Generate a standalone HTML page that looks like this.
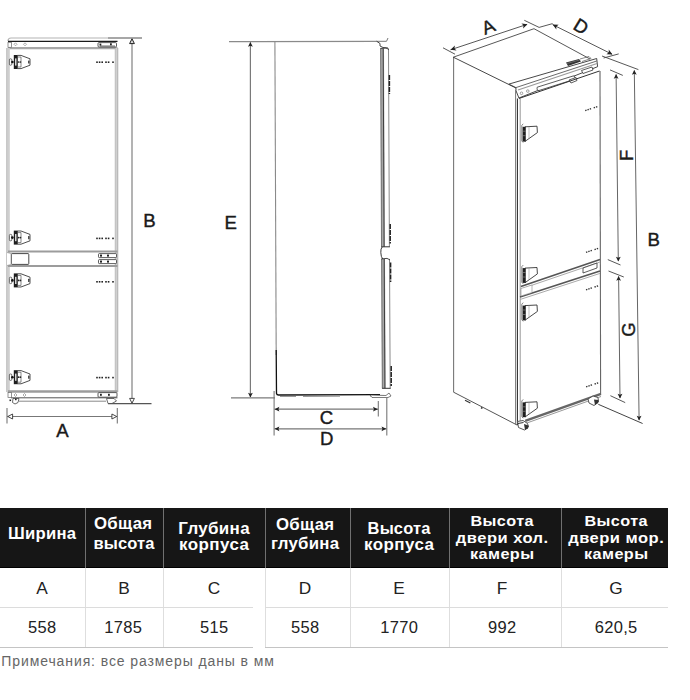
<!DOCTYPE html>
<html><head><meta charset="utf-8">
<style>
html,body{margin:0;padding:0;background:#fff;}
body{width:690px;height:700px;position:relative;overflow:hidden;font-family:"Liberation Sans",sans-serif;}
svg{position:absolute;left:0;top:0;}
.t{position:absolute;}
.hd{position:absolute;top:507.5px;height:60.5px;background:#161616;}
.hb{position:absolute;top:566.5px;height:1.5px;background:#000;}
.vs{position:absolute;top:507.5px;height:60.5px;width:1.2px;background:#707070;}
.vl{position:absolute;top:568px;height:79px;width:1.2px;background:#dedede;}
.hl{position:absolute;height:1.3px;background:#dcdcdc;}
.hh{position:absolute;color:#fff;font-weight:bold;font-size:16px;line-height:19.5px;text-align:center;display:flex;align-items:center;justify-content:center;top:507.5px;height:60.5px;}
.c{position:absolute;color:#222;font-size:16px;text-align:center;line-height:20px;}
</style></head><body>
<svg width="690" height="500" viewBox="0 0 690 500">
<path d="M8,41 Q8,38 11,38 L108,38" fill="none" stroke="#b4b4b4" stroke-width="1.2"/><line x1="108" y1="38" x2="142" y2="38" stroke="#8a8a8a" stroke-width="1.3"/><line x1="8" y1="41.4" x2="117.5" y2="41.4" stroke="#1a1a1a" stroke-width="1.4"/><line x1="8" y1="48.2" x2="117.5" y2="48.2" stroke="#a8a8a8" stroke-width="2.2"/><rect x="8" y="42.3" width="3.4" height="5" fill="#fff" stroke="#666" stroke-width="0.7"/><path d="M15.5,42.8 L17,44.3 L15.5,45.8 L14,44.3 Z M25,42.8 L26.5,44.3 L25,45.8 L23.5,44.3 Z" fill="none" stroke="#777" stroke-width="0.6"/><rect x="98" y="42.6" width="18.5" height="4.4" rx="1" fill="#fff" stroke="#333" stroke-width="0.8"/><line x1="100" y1="46" x2="115" y2="46" stroke="#444" stroke-width="0.8"/><rect x="99.5" y="43.6" width="1.8" height="2" fill="#222"/><rect x="110" y="43.3" width="1.8" height="2" fill="#222"/><rect x="6.6" y="48" width="3.2" height="344" fill="#cfcfcf"/><line x1="6.6" y1="48" x2="6.6" y2="392" stroke="#aaa" stroke-width="0.6"/><rect x="115.2" y="48" width="2.6" height="344" fill="#d0d0d0"/><line x1="117.8" y1="48" x2="117.8" y2="392" stroke="#999" stroke-width="0.7"/><line x1="115.2" y1="48" x2="115.2" y2="392" stroke="#aaa" stroke-width="0.6"/><line x1="8" y1="251.6" x2="117.5" y2="251.6" stroke="#9c9c9c" stroke-width="2"/><line x1="8" y1="266" x2="117.5" y2="266" stroke="#9c9c9c" stroke-width="2"/><rect x="11.3" y="253.6" width="17.5" height="10.8" rx="0.8" fill="#fff" stroke="#333" stroke-width="0.9"/><path d="M7,252.5 L11,253.5 L11,264.5 L7,265.5" fill="#fff" stroke="#888" stroke-width="0.6"/><rect x="98.5" y="253.6" width="18" height="4" rx="0.8" fill="#fff" stroke="#333" stroke-width="0.8"/><rect x="98.5" y="259.6" width="18" height="4" rx="0.8" fill="#fff" stroke="#333" stroke-width="0.8"/><rect x="100" y="254.6" width="2" height="2" fill="#222"/><rect x="107" y="254.6" width="2" height="2" fill="#222"/><rect x="100" y="260.6" width="2" height="2" fill="#222"/><rect x="107" y="260.6" width="2" height="2" fill="#222"/><line x1="8" y1="391.5" x2="117.5" y2="391.5" stroke="#9c9c9c" stroke-width="2.4"/><rect x="8" y="392.5" width="3.6" height="5" fill="#fff" stroke="#666" stroke-width="0.7"/><path d="M15.5,393.5 L17,395 L15.5,396.5 L14,395 Z M24.5,393.5 L26,395 L24.5,396.5 L23,395 Z" fill="none" stroke="#777" stroke-width="0.6"/><line x1="11" y1="397.8" x2="117.5" y2="397.8" stroke="#555" stroke-width="1"/><line x1="19" y1="401.2" x2="106" y2="401.2" stroke="#888" stroke-width="1"/><rect x="98" y="392.6" width="19" height="4.6" rx="1" fill="#fff" stroke="#333" stroke-width="0.8"/><rect x="100" y="393.8" width="1.8" height="2" fill="#222"/><rect x="108" y="393.8" width="1.8" height="2" fill="#222"/><path d="M106.5,398.5 L114,398.5 L116.5,401 L112,403.5 L108,403.5 Z" fill="#fff" stroke="#444" stroke-width="0.8"/><path d="M13,398.5 L19,398.5 L18,402.5 L15,404 L12.5,402.5 Z" fill="#fff" stroke="#444" stroke-width="0.8"/><rect x="9.5" y="399.5" width="1.6" height="1.6" fill="#222"/><rect x="15" y="398.6" width="1.6" height="1.6" fill="#222"/><g transform="translate(9,62)">
<path d="M8.3,-6.6 L12,-6.6 L21,-3.2 L21,3.2 L12,6.6 L8.3,6.6 Z" fill="#fff" stroke="#3a3a3a" stroke-width="0.9"/>
<rect x="4.8" y="-7" width="3.6" height="14" fill="#1e1e1e"/>
<rect x="6" y="-3.6" width="1.5" height="7.2" fill="#d8d8d8"/>
<path d="M8.4,-5 L12,-5 L12,5 L8.4,5" fill="none" stroke="#555" stroke-width="0.7"/>
<circle cx="9.6" cy="0" r="0.85" fill="#222"/><circle cx="11.4" cy="0" r="0.85" fill="#222"/>
<rect x="0.4" y="-3.2" width="2.4" height="6.4" rx="1" fill="#fff" stroke="#333" stroke-width="0.7"/>
<circle cx="3.4" cy="0" r="1.3" fill="#111"/>
<rect x="19.2" y="-1.6" width="1.2" height="3.2" rx="0.5" fill="#222"/>
</g><g transform="translate(9,237.6)">
<path d="M8.3,-6.6 L12,-6.6 L21,-3.2 L21,3.2 L12,6.6 L8.3,6.6 Z" fill="#fff" stroke="#3a3a3a" stroke-width="0.9"/>
<rect x="4.8" y="-7" width="3.6" height="14" fill="#1e1e1e"/>
<rect x="6" y="-3.6" width="1.5" height="7.2" fill="#d8d8d8"/>
<path d="M8.4,-5 L12,-5 L12,5 L8.4,5" fill="none" stroke="#555" stroke-width="0.7"/>
<circle cx="9.6" cy="0" r="0.85" fill="#222"/><circle cx="11.4" cy="0" r="0.85" fill="#222"/>
<rect x="0.4" y="-3.2" width="2.4" height="6.4" rx="1" fill="#fff" stroke="#333" stroke-width="0.7"/>
<circle cx="3.4" cy="0" r="1.3" fill="#111"/>
<rect x="19.2" y="-1.6" width="1.2" height="3.2" rx="0.5" fill="#222"/>
</g><g transform="translate(9,280.4)">
<path d="M8.3,-6.6 L12,-6.6 L21,-3.2 L21,3.2 L12,6.6 L8.3,6.6 Z" fill="#fff" stroke="#3a3a3a" stroke-width="0.9"/>
<rect x="4.8" y="-7" width="3.6" height="14" fill="#1e1e1e"/>
<rect x="6" y="-3.6" width="1.5" height="7.2" fill="#d8d8d8"/>
<path d="M8.4,-5 L12,-5 L12,5 L8.4,5" fill="none" stroke="#555" stroke-width="0.7"/>
<circle cx="9.6" cy="0" r="0.85" fill="#222"/><circle cx="11.4" cy="0" r="0.85" fill="#222"/>
<rect x="0.4" y="-3.2" width="2.4" height="6.4" rx="1" fill="#fff" stroke="#333" stroke-width="0.7"/>
<circle cx="3.4" cy="0" r="1.3" fill="#111"/>
<rect x="19.2" y="-1.6" width="1.2" height="3.2" rx="0.5" fill="#222"/>
</g><g transform="translate(9,377.2)">
<path d="M8.3,-6.6 L12,-6.6 L21,-3.2 L21,3.2 L12,6.6 L8.3,6.6 Z" fill="#fff" stroke="#3a3a3a" stroke-width="0.9"/>
<rect x="4.8" y="-7" width="3.6" height="14" fill="#1e1e1e"/>
<rect x="6" y="-3.6" width="1.5" height="7.2" fill="#d8d8d8"/>
<path d="M8.4,-5 L12,-5 L12,5 L8.4,5" fill="none" stroke="#555" stroke-width="0.7"/>
<circle cx="9.6" cy="0" r="0.85" fill="#222"/><circle cx="11.4" cy="0" r="0.85" fill="#222"/>
<rect x="0.4" y="-3.2" width="2.4" height="6.4" rx="1" fill="#fff" stroke="#333" stroke-width="0.7"/>
<circle cx="3.4" cy="0" r="1.3" fill="#111"/>
<rect x="19.2" y="-1.6" width="1.2" height="3.2" rx="0.5" fill="#222"/>
</g><g fill="#222"><rect x="96.2" y="61.400000000000006" width="1.6" height="1.6"/><rect x="98.8" y="61.400000000000006" width="1.6" height="1.6"/><rect x="101.4" y="61.400000000000006" width="1.6" height="1.6"/>
<rect x="105.2" y="61.400000000000006" width="1.6" height="1.6"/><rect x="107.8" y="61.400000000000006" width="1.6" height="1.6"/><rect x="112.2" y="61.400000000000006" width="1.6" height="1.6"/></g><g fill="#222"><rect x="96.2" y="237.6" width="1.6" height="1.6"/><rect x="98.8" y="237.6" width="1.6" height="1.6"/><rect x="101.4" y="237.6" width="1.6" height="1.6"/>
<rect x="105.2" y="237.6" width="1.6" height="1.6"/><rect x="107.8" y="237.6" width="1.6" height="1.6"/><rect x="112.2" y="237.6" width="1.6" height="1.6"/></g><g fill="#222"><rect x="96.2" y="281.0" width="1.6" height="1.6"/><rect x="98.8" y="281.0" width="1.6" height="1.6"/><rect x="101.4" y="281.0" width="1.6" height="1.6"/>
<rect x="105.2" y="281.0" width="1.6" height="1.6"/><rect x="107.8" y="281.0" width="1.6" height="1.6"/><rect x="112.2" y="281.0" width="1.6" height="1.6"/></g><g fill="#222"><rect x="96.2" y="376.8" width="1.6" height="1.6"/><rect x="98.8" y="376.8" width="1.6" height="1.6"/><rect x="101.4" y="376.8" width="1.6" height="1.6"/>
<rect x="105.2" y="376.8" width="1.6" height="1.6"/><rect x="107.8" y="376.8" width="1.6" height="1.6"/><rect x="112.2" y="376.8" width="1.6" height="1.6"/></g><line x1="108" y1="403.6" x2="151.5" y2="403.6" stroke="#555" stroke-width="1.1"/><line x1="132" y1="39" x2="132" y2="402.5" stroke="#8a8a8a" stroke-width="1.3"/><path d="M129.6,43.6 L132,38.8 L134.4,43.6 Z" fill="#ddd" stroke="#222" stroke-width="1"/><path d="M129.6,398.4 L132,403.2 L134.4,398.4 Z" fill="#fff" stroke="#333" stroke-width="0.9"/><line x1="7" y1="416.5" x2="117.3" y2="416.5" stroke="#777" stroke-width="1.2"/><line x1="7" y1="408" x2="7" y2="423.5" stroke="#777" stroke-width="1.1"/><line x1="117.3" y1="408" x2="117.3" y2="423.5" stroke="#777" stroke-width="1.1"/><path d="M12.6,414 L7.8,416.5 L12.6,419 Z" fill="#fff" stroke="#333" stroke-width="0.9"/><path d="M111.9,414 L116.7,416.5 L111.9,419 Z" fill="#fff" stroke="#333" stroke-width="0.9"/><line x1="229" y1="41.6" x2="377" y2="41.3" stroke="#8a8a8a" stroke-width="1.2"/><path d="M376,41.3 L386.5,41.3 L388,38" fill="none" stroke="#777" stroke-width="1"/><path d="M377,41.5 L380,43.5 L380,46 L383,47.5 L388,48" fill="none" stroke="#333" stroke-width="0.9"/><line x1="274.9" y1="41.6" x2="276.2" y2="355" stroke="#8a8a8a" stroke-width="1.1"/><path d="M276.2,350 L276.5,393.5 Q276.8,395 278.5,395 L380,394.6" fill="none" stroke="#111" stroke-width="1.3"/><path d="M280,396.5 L296,396.5 M303,396.5 L340,396.3 M370,396 L384,396" fill="none" stroke="#999" stroke-width="1.1"/><path d="M380.4,48.5 L384,48.5 L384.9,246.8 L381.29999999999995,246.8 Z" fill="#a8a8a8"/><line x1="383.2" y1="48.5" x2="384.09999999999997" y2="246.8" stroke="#333" stroke-width="0.9"/><line x1="380.6" y1="48.5" x2="381.5" y2="246.8" stroke="#555" stroke-width="0.7"/><line x1="388.5" y1="48.5" x2="389.4" y2="246.8" stroke="#8a8a8a" stroke-width="1"/><path d="M380.4,48.5 L386,48.0 L389,49.5" fill="none" stroke="#333" stroke-width="0.9"/><path d="M381.29999999999995,246.8 L389.9,246.8" fill="none" stroke="#333" stroke-width="1"/><path d="M381.4,258.9 L385.0,258.9 L385.7,388.3 L382.09999999999997,388.3 Z" fill="#a8a8a8"/><line x1="384.2" y1="258.9" x2="384.9" y2="388.3" stroke="#333" stroke-width="0.9"/><line x1="381.6" y1="258.9" x2="382.3" y2="388.3" stroke="#555" stroke-width="0.7"/><line x1="389.5" y1="258.9" x2="390.2" y2="388.3" stroke="#8a8a8a" stroke-width="1"/><path d="M381.4,258.9 L387.0,258.4 L390.0,259.9" fill="none" stroke="#333" stroke-width="0.9"/><path d="M382.09999999999997,388.3 L390.7,388.3" fill="none" stroke="#333" stroke-width="1"/><path d="M382.2,247 Q380.6,248.5 380.8,252.5 Q381,257 382.6,258.9" fill="none" stroke="#222" stroke-width="0.9"/><line x1="389.4" y1="75" x2="389.4" y2="94" stroke="#222" stroke-width="1.5" stroke-dasharray="5,1"/><line x1="390.2" y1="224" x2="390.2" y2="243.4" stroke="#222" stroke-width="1.5" stroke-dasharray="5,1"/><line x1="390.6" y1="262.5" x2="390.6" y2="282" stroke="#222" stroke-width="1.5" stroke-dasharray="5,1"/><line x1="391.2" y1="366" x2="391.2" y2="386" stroke="#222" stroke-width="1.5" stroke-dasharray="5,1"/><path d="M370,395 L386,395.5 L389,393 L391,396 L388,397.5 L372,397.5 Z" fill="#fff" stroke="#444" stroke-width="0.7"/><line x1="250.4" y1="42.5" x2="250.4" y2="397" stroke="#7a7a7a" stroke-width="1.2"/><polygon points="250.4,42 248.0,46.8 250.4,45.84 252.8,46.8" fill="#222"/><polygon points="250.4,397.5 248.0,392.7 250.4,393.66 252.8,392.7" fill="#222"/><line x1="231" y1="397.8" x2="275" y2="397.8" stroke="#7a7a7a" stroke-width="1.2"/><line x1="274.1" y1="391" x2="274.1" y2="435.6" stroke="#777" stroke-width="1.1"/><line x1="378.3" y1="401" x2="378.3" y2="416.5" stroke="#777" stroke-width="1.1"/><line x1="386.8" y1="398" x2="386.8" y2="435.6" stroke="#777" stroke-width="1.1"/><line x1="274.5" y1="409.2" x2="378" y2="409.2" stroke="#777" stroke-width="1.2"/><line x1="274.5" y1="428.8" x2="386.5" y2="428.8" stroke="#777" stroke-width="1.2"/><polygon points="274.6,409.2 279.40000000000003,406.8 278.44,409.2 279.40000000000003,411.59999999999997" fill="#222"/><polygon points="377.8,409.2 373.0,406.8 373.96000000000004,409.2 373.0,411.59999999999997" fill="#222"/><polygon points="274.6,428.8 279.40000000000003,426.40000000000003 278.44,428.8 279.40000000000003,431.2" fill="#222"/><polygon points="386.3,428.8 381.5,426.40000000000003 382.46000000000004,428.8 381.5,431.2" fill="#222"/><line x1="453.6" y1="57" x2="453.6" y2="392.2" stroke="#777" stroke-width="1.1"/><line x1="453.3" y1="57.2" x2="534" y2="28.7" stroke="#444" stroke-width="0.9"/><line x1="534" y1="28.7" x2="590" y2="59" stroke="#444" stroke-width="0.9"/><line x1="453.3" y1="57.2" x2="516" y2="88" stroke="#333" stroke-width="0.9"/><line x1="453.6" y1="392.2" x2="517.4" y2="425.2" stroke="#555" stroke-width="1"/><line x1="600" y1="71" x2="600.6" y2="394" stroke="#666" stroke-width="1.1"/><path d="M508.9,84.1 L596.7,58.5 L597.6,66.7 L518.9,98 L516,90.7 L515.9,87.6 Z" fill="#fff" stroke="#333" stroke-width="0.9"/><line x1="515.9" y1="87.6" x2="596.7" y2="61" stroke="#444" stroke-width="0.8"/><line x1="518" y1="90" x2="597" y2="63.5" stroke="#999" stroke-width="1.2"/><path d="M537.2,87.2 L573,76 Q575,75.5 575,78 L575.5,79 L539,90.5 Q536.5,91 537.2,87.2 Z" fill="#fff" stroke="#333" stroke-width="0.8"/><path d="M566,62.5 L579,59 L581,61.5 L568,66 Z" fill="#333"/><path d="M567,63.5 L579.5,60" stroke="#888" stroke-width="0.6"/><path d="M580,59 L589,56.5 L591,58.5 L582,61.5" fill="none" stroke="#555" stroke-width="0.7"/><path d="M581.5,70.5 L592,67 L593,70 L583,73.5 Z" fill="#fff" stroke="#333" stroke-width="0.8"/><circle cx="521.5" cy="93.3" r="1.3" fill="none" stroke="#666" stroke-width="0.6"/><circle cx="527.8" cy="91.1" r="1.3" fill="none" stroke="#666" stroke-width="0.6"/><path d="M569,80 L576,77.5 L577,80.5 L571,83 Z" fill="#fff" stroke="#333" stroke-width="0.8"/><line x1="515.6" y1="90" x2="515.6" y2="425" stroke="#777" stroke-width="1"/><line x1="517.4" y1="98.5" x2="517.4" y2="425" stroke="#222" stroke-width="1"/><line x1="520.2" y1="98.5" x2="520.2" y2="421" stroke="#999" stroke-width="1"/><line x1="518.9" y1="98.5" x2="599.5" y2="71" stroke="#333" stroke-width="1"/><line x1="520.9" y1="286.5" x2="600" y2="259.6" stroke="#555" stroke-width="1.6"/><line x1="520.9" y1="289" x2="600" y2="262" stroke="#aaa" stroke-width="1"/><line x1="520" y1="297" x2="600" y2="270.9" stroke="#555" stroke-width="1.6"/><line x1="520" y1="299.5" x2="600" y2="273.4" stroke="#aaa" stroke-width="1"/><path d="M521,288.5 L532,285 L532,292.5 L521,296 Z" fill="#fff" stroke="#888" stroke-width="0.6"/><path d="M583,268 L597,263 L597,268 L583,273 Z" fill="#fff" stroke="#333" stroke-width="0.8"/><line x1="525.2" y1="420.9" x2="601" y2="393.9" stroke="#666" stroke-width="2.4"/><line x1="525.2" y1="423.6" x2="601" y2="396.5" stroke="#999" stroke-width="1"/><g transform="translate(521,123.2)">
<path d="M2.2,0.6 L0.8,2.2 L0.8,17.8 L2.2,19.4" fill="none" stroke="#666" stroke-width="0.8"/>
<path d="M4,3.6 L16,3 L16.4,9.4 L4,18.2 Z" fill="#fff" stroke="#333" stroke-width="0.9"/>
<path d="M8,3.4 L8,15.4" stroke="#999" stroke-width="0.6"/>
<rect x="1.6" y="3.6" width="3" height="14.8" fill="#1e1e1e"/>
<path d="M1.6,8 L4.6,8 M1.6,12.5 L4.6,12.5" stroke="#999" stroke-width="0.6"/>
</g><g transform="translate(521,264.5)">
<path d="M2.2,0.6 L0.8,2.2 L0.8,17.8 L2.2,19.4" fill="none" stroke="#666" stroke-width="0.8"/>
<path d="M4,3.6 L16,3 L16.4,9.4 L4,18.2 Z" fill="#fff" stroke="#333" stroke-width="0.9"/>
<path d="M8,3.4 L8,15.4" stroke="#999" stroke-width="0.6"/>
<rect x="1.6" y="3.6" width="3" height="14.8" fill="#1e1e1e"/>
<path d="M1.6,8 L4.6,8 M1.6,12.5 L4.6,12.5" stroke="#999" stroke-width="0.6"/>
</g><g transform="translate(521,302)">
<path d="M2.2,0.6 L0.8,2.2 L0.8,17.8 L2.2,19.4" fill="none" stroke="#666" stroke-width="0.8"/>
<path d="M4,3.6 L16,3 L16.4,9.4 L4,18.2 Z" fill="#fff" stroke="#333" stroke-width="0.9"/>
<path d="M8,3.4 L8,15.4" stroke="#999" stroke-width="0.6"/>
<rect x="1.6" y="3.6" width="3" height="14.8" fill="#1e1e1e"/>
<path d="M1.6,8 L4.6,8 M1.6,12.5 L4.6,12.5" stroke="#999" stroke-width="0.6"/>
</g><g transform="translate(521,398.8)">
<path d="M2.2,0.6 L0.8,2.2 L0.8,17.8 L2.2,19.4" fill="none" stroke="#666" stroke-width="0.8"/>
<path d="M4,3.6 L16,3 L16.4,9.4 L4,18.2 Z" fill="#fff" stroke="#333" stroke-width="0.9"/>
<path d="M8,3.4 L8,15.4" stroke="#999" stroke-width="0.6"/>
<rect x="1.6" y="3.6" width="3" height="14.8" fill="#1e1e1e"/>
<path d="M1.6,8 L4.6,8 M1.6,12.5 L4.6,12.5" stroke="#999" stroke-width="0.6"/>
</g><path d="M585.2,110.6 L591.2,108.6" stroke="#333" stroke-width="1.4" stroke-dasharray="1.4,1"/><path d="M593.7,107.8 L598.2,106.3" stroke="#333" stroke-width="1.4" stroke-dasharray="1.4,1"/><path d="M586,252.4 L592,250.4" stroke="#333" stroke-width="1.4" stroke-dasharray="1.4,1"/><path d="M594.5,249.6 L599,248.1" stroke="#333" stroke-width="1.4" stroke-dasharray="1.4,1"/><path d="M586,289.8 L592,287.8" stroke="#333" stroke-width="1.4" stroke-dasharray="1.4,1"/><path d="M594.5,287.0 L599,285.5" stroke="#333" stroke-width="1.4" stroke-dasharray="1.4,1"/><path d="M586.1,386.8 L592.1,384.8" stroke="#333" stroke-width="1.4" stroke-dasharray="1.4,1"/><path d="M594.6,384.0 L599.1,382.5" stroke="#333" stroke-width="1.4" stroke-dasharray="1.4,1"/><path d="M517.5,421.5 L523,420.5 L527.5,423.5 L528.5,427 L524.5,430 L518.5,427.5 Z" fill="#fff" stroke="#444" stroke-width="0.9"/><path d="M524,424 L528.5,425.5 L528,428.5 L525,430 Z" fill="#333"/><path d="M518,423.5 L523.5,422.5" stroke="#333" stroke-width="1"/><path d="M588,399 L593,396 L598,397.5 L598.5,402 L594,405.5 L589,403 Z" fill="#fff" stroke="#444" stroke-width="0.9"/><path d="M594,399.5 L598.5,400 L598,403 L595,405 Z" fill="#333"/><path d="M465,400.3 L470.4,403" stroke="#333" stroke-width="1.2"/><path d="M481,407.6 L482.4,408.3" stroke="#222" stroke-width="1.5"/><line x1="443" y1="47.8" x2="455" y2="54.2" stroke="#444" stroke-width="0.9"/><line x1="450.5" y1="49.8" x2="527" y2="24.4" stroke="#444" stroke-width="0.9"/><polygon points="450.50,49.80 454.90,45.60 454.41,48.50 456.54,50.53" fill="#222"/><polygon points="527.50,24.20 523.10,28.40 523.59,25.50 521.46,23.47" fill="#222"/><path d="M524.3,20.3 L539.1,27.4 L552.6,23.6" fill="none" stroke="#444" stroke-width="0.9"/><line x1="552.6" y1="24.6" x2="612" y2="54.2" stroke="#444" stroke-width="0.9"/><polygon points="552.60,24.60 558.68,24.73 556.29,26.44 556.36,29.38" fill="#222"/><polygon points="612.50,54.40 606.42,54.27 608.81,52.56 608.74,49.62" fill="#222"/><line x1="603.6" y1="58" x2="618.7" y2="53.9" stroke="#444" stroke-width="0.9"/><line x1="602" y1="56" x2="638.4" y2="69.6" stroke="#444" stroke-width="0.9"/><line x1="610" y1="69.9" x2="622.8" y2="75.4" stroke="#444" stroke-width="0.9"/><line x1="616.1" y1="74.5" x2="618.3" y2="261" stroke="#666" stroke-width="1"/><polygon points="616.1,74 613.7,78.8 616.1,77.84 618.5,78.8" fill="#222"/><polygon points="618.3,261.5 615.9,256.7 618.3,257.66 620.6999999999999,256.7" fill="#222"/><line x1="607.8" y1="259.6" x2="620.5" y2="265" stroke="#444" stroke-width="0.9"/><line x1="608.5" y1="271" x2="623.8" y2="277" stroke="#444" stroke-width="0.9"/><line x1="618.6" y1="276.5" x2="620" y2="398" stroke="#666" stroke-width="1"/><polygon points="618.6,276 616.2,280.8 618.6,279.84 621.0,280.8" fill="#222"/><polygon points="620,398.5 617.6,393.7 620,394.66 622.4,393.7" fill="#222"/><line x1="610.4" y1="395.7" x2="625.2" y2="402.6" stroke="#444" stroke-width="0.9"/><line x1="634.3" y1="70.5" x2="639.1" y2="420" stroke="#666" stroke-width="1"/><polygon points="634.3,70 631.9,74.8 634.3,73.84 636.6999999999999,74.8" fill="#222"/><polygon points="639.1,420.5 636.7,415.7 639.1,416.66 641.5,415.7" fill="#222"/><line x1="598.3" y1="404.3" x2="642.6" y2="423.5" stroke="#444" stroke-width="1"/>
<text x="149.4" y="220.2" transform="rotate(0 149.4 220.2)" font-family="Liberation Sans" font-size="18.6" fill="#1a1a1a" stroke="#1a1a1a" stroke-width="0.4" text-anchor="middle" dominant-baseline="central">B</text><text x="62.4" y="430.6" transform="rotate(0 62.4 430.6)" font-family="Liberation Sans" font-size="18.6" fill="#1a1a1a" stroke="#1a1a1a" stroke-width="0.4" text-anchor="middle" dominant-baseline="central">A</text><text x="230.7" y="222.8" transform="rotate(0 230.7 222.8)" font-family="Liberation Sans" font-size="18.6" fill="#1a1a1a" stroke="#1a1a1a" stroke-width="0.4" text-anchor="middle" dominant-baseline="central">E</text><text x="326.4" y="417.7" transform="rotate(0 326.4 417.7)" font-family="Liberation Sans" font-size="18.6" fill="#1a1a1a" stroke="#1a1a1a" stroke-width="0.4" text-anchor="middle" dominant-baseline="central">C</text><text x="326.7" y="438.9" transform="rotate(0 326.7 438.9)" font-family="Liberation Sans" font-size="18.6" fill="#1a1a1a" stroke="#1a1a1a" stroke-width="0.4" text-anchor="middle" dominant-baseline="central">D</text><text x="488.2" y="26.6" transform="rotate(-22.6 488.2 26.6)" font-family="Liberation Sans" font-size="18.6" fill="#1a1a1a" stroke="#1a1a1a" stroke-width="0.4" text-anchor="middle" dominant-baseline="central">A</text><text x="581.2" y="26.5" transform="rotate(31 581.2 26.5)" font-family="Liberation Sans" font-size="18.6" fill="#1a1a1a" stroke="#1a1a1a" stroke-width="0.4" text-anchor="middle" dominant-baseline="central">D</text><text x="626.2" y="155.3" transform="rotate(-90 626.2 155.3)" font-family="Liberation Sans" font-size="18.6" fill="#1a1a1a" stroke="#1a1a1a" stroke-width="0.4" text-anchor="middle" dominant-baseline="central">F</text><text x="628.3" y="329.4" transform="rotate(-90 628.3 329.4)" font-family="Liberation Sans" font-size="18.6" fill="#1a1a1a" stroke="#1a1a1a" stroke-width="0.4" text-anchor="middle" dominant-baseline="central">G</text><text x="653.6" y="239.1" transform="rotate(0 653.6 239.1)" font-family="Liberation Sans" font-size="18.6" fill="#1a1a1a" stroke="#1a1a1a" stroke-width="0.4" text-anchor="middle" dominant-baseline="central">B</text>
</svg>
<div class="hd" style="left:0;width:668px"></div>
<div class="hb" style="left:0;width:668px"></div>
<div class="vs" style="left:85px"></div>
<div class="vs" style="left:163px"></div>
<div class="vs" style="left:264.8px"></div>
<div class="vs" style="left:349.5px"></div>
<div class="vs" style="left:448.8px"></div>
<div class="vs" style="left:561px"></div>
<div class="vl" style="left:85px"></div>
<div class="vl" style="left:163px"></div>
<div class="vl" style="left:264.8px"></div>
<div class="vl" style="left:349.5px"></div>
<div class="vl" style="left:448.8px"></div>
<div class="vl" style="left:561px"></div>
<div class="hl" style="left:0;width:253px;top:606.8px"></div>
<div class="hl" style="left:264.8px;width:403px;top:606.8px"></div>
<div class="hl" style="left:0;width:253px;top:646.5px;background:#c4c4c4"></div>
<div class="hl" style="left:264.8px;width:403px;top:646.5px;background:#c4c4c4"></div>
<div class="t" style="left:-57.60px;width:200px;top:525.56px;font-size:16px;line-height:16px;letter-spacing:0.25px;text-indent:0.25px;color:#fff;font-weight:bold;text-align:center;white-space:nowrap;transform:scaleX(1.04);transform-origin:100.0px 0;">Ширина</div><div class="t" style="left:22.90px;width:200px;top:516.06px;font-size:16px;line-height:16px;letter-spacing:0.3px;text-indent:0.3px;color:#fff;font-weight:bold;text-align:center;white-space:nowrap;transform:scaleX(1.05);transform-origin:100.0px 0;">Общая</div><div class="t" style="left:23.50px;width:200px;top:535.96px;font-size:16px;line-height:16px;letter-spacing:0.1px;text-indent:0.1px;color:#fff;font-weight:bold;text-align:center;white-space:nowrap;transform:scaleX(1.03);transform-origin:100.0px 0;">высота</div><div class="t" style="left:114.00px;width:200px;top:521.36px;font-size:16px;line-height:16px;letter-spacing:0.3px;text-indent:0.3px;color:#fff;font-weight:bold;text-align:center;white-space:nowrap;transform:scaleX(1.06);transform-origin:100.0px 0;">Глубина</div><div class="t" style="left:114.40px;width:200px;top:537.36px;font-size:16px;line-height:16px;letter-spacing:0.4px;text-indent:0.4px;color:#fff;font-weight:bold;text-align:center;white-space:nowrap;transform:scaleX(1.06);transform-origin:100.0px 0;">корпуса</div><div class="t" style="left:205.00px;width:200px;top:516.96px;font-size:16px;line-height:16px;letter-spacing:0.3px;text-indent:0.3px;color:#fff;font-weight:bold;text-align:center;white-space:nowrap;transform:scaleX(1.05);transform-origin:100.0px 0;">Общая</div><div class="t" style="left:205.00px;width:200px;top:535.96px;font-size:16px;line-height:16px;letter-spacing:0.25px;text-indent:0.25px;color:#fff;font-weight:bold;text-align:center;white-space:nowrap;transform:scaleX(1.05);transform-origin:100.0px 0;">глубина</div><div class="t" style="left:299.00px;width:200px;top:521.06px;font-size:16px;line-height:16px;letter-spacing:0.15px;text-indent:0.15px;color:#fff;font-weight:bold;text-align:center;white-space:nowrap;transform:scaleX(1.03);transform-origin:100.0px 0;">Высота</div><div class="t" style="left:299.00px;width:200px;top:537.36px;font-size:16px;line-height:16px;letter-spacing:0.4px;text-indent:0.4px;color:#fff;font-weight:bold;text-align:center;white-space:nowrap;transform:scaleX(1.06);transform-origin:100.0px 0;">корпуса</div><div class="t" style="left:402.20px;width:200px;top:512.70px;font-size:15px;line-height:15px;letter-spacing:0.4px;text-indent:0.4px;color:#fff;font-weight:bold;text-align:center;white-space:nowrap;transform:scaleX(1.08);transform-origin:100.0px 0;">Высота</div><div class="t" style="left:402.20px;width:200px;top:529.50px;font-size:15px;line-height:15px;letter-spacing:0.45px;text-indent:0.45px;color:#fff;font-weight:bold;text-align:center;white-space:nowrap;transform:scaleX(1.1);transform-origin:100.0px 0;">двери хол.</div><div class="t" style="left:402.20px;width:200px;top:545.90px;font-size:15px;line-height:15px;letter-spacing:0.4px;text-indent:0.4px;color:#fff;font-weight:bold;text-align:center;white-space:nowrap;transform:scaleX(1.08);transform-origin:100.0px 0;">камеры</div><div class="t" style="left:515.60px;width:200px;top:512.70px;font-size:15px;line-height:15px;letter-spacing:0.4px;text-indent:0.4px;color:#fff;font-weight:bold;text-align:center;white-space:nowrap;transform:scaleX(1.08);transform-origin:100.0px 0;">Высота</div><div class="t" style="left:515.60px;width:200px;top:529.50px;font-size:15px;line-height:15px;letter-spacing:0.45px;text-indent:0.45px;color:#fff;font-weight:bold;text-align:center;white-space:nowrap;transform:scaleX(1.1);transform-origin:100.0px 0;">двери мор.</div><div class="t" style="left:515.60px;width:200px;top:545.90px;font-size:15px;line-height:15px;letter-spacing:0.4px;text-indent:0.4px;color:#fff;font-weight:bold;text-align:center;white-space:nowrap;transform:scaleX(1.08);transform-origin:100.0px 0;">камеры</div>
<div class="t" style="left:-57.60px;width:200px;top:580.66px;font-size:16px;line-height:16px;letter-spacing:0px;text-indent:0px;color:#222;font-weight:normal;text-align:center;white-space:nowrap;transform:scaleX(1.08);transform-origin:100.0px 0;">A</div><div class="t" style="left:23.50px;width:200px;top:580.66px;font-size:16px;line-height:16px;letter-spacing:0px;text-indent:0px;color:#222;font-weight:normal;text-align:center;white-space:nowrap;transform:scaleX(1.08);transform-origin:100.0px 0;">B</div><div class="t" style="left:114.00px;width:200px;top:580.66px;font-size:16px;line-height:16px;letter-spacing:0px;text-indent:0px;color:#222;font-weight:normal;text-align:center;white-space:nowrap;transform:scaleX(1.08);transform-origin:100.0px 0;">C</div><div class="t" style="left:205.00px;width:200px;top:580.66px;font-size:16px;line-height:16px;letter-spacing:0px;text-indent:0px;color:#222;font-weight:normal;text-align:center;white-space:nowrap;transform:scaleX(1.08);transform-origin:100.0px 0;">D</div><div class="t" style="left:299.00px;width:200px;top:580.66px;font-size:16px;line-height:16px;letter-spacing:0px;text-indent:0px;color:#222;font-weight:normal;text-align:center;white-space:nowrap;transform:scaleX(1.08);transform-origin:100.0px 0;">E</div><div class="t" style="left:402.20px;width:200px;top:580.66px;font-size:16px;line-height:16px;letter-spacing:0px;text-indent:0px;color:#222;font-weight:normal;text-align:center;white-space:nowrap;transform:scaleX(1.08);transform-origin:100.0px 0;">F</div><div class="t" style="left:515.60px;width:200px;top:580.66px;font-size:16px;line-height:16px;letter-spacing:0px;text-indent:0px;color:#222;font-weight:normal;text-align:center;white-space:nowrap;transform:scaleX(1.08);transform-origin:100.0px 0;">G</div><div class="t" style="left:-57.60px;width:200px;top:619.96px;font-size:16px;line-height:16px;letter-spacing:0.3px;text-indent:0.3px;color:#222;font-weight:normal;text-align:center;white-space:nowrap;transform:scaleX(1.03);transform-origin:100.0px 0;">558</div><div class="t" style="left:23.10px;width:200px;top:619.96px;font-size:16px;line-height:16px;letter-spacing:0.3px;text-indent:0.3px;color:#222;font-weight:normal;text-align:center;white-space:nowrap;transform:scaleX(1.03);transform-origin:100.0px 0;">1785</div><div class="t" style="left:114.00px;width:200px;top:619.96px;font-size:16px;line-height:16px;letter-spacing:0.3px;text-indent:0.3px;color:#222;font-weight:normal;text-align:center;white-space:nowrap;transform:scaleX(1.03);transform-origin:100.0px 0;">515</div><div class="t" style="left:205.00px;width:200px;top:619.96px;font-size:16px;line-height:16px;letter-spacing:0.3px;text-indent:0.3px;color:#222;font-weight:normal;text-align:center;white-space:nowrap;transform:scaleX(1.03);transform-origin:100.0px 0;">558</div><div class="t" style="left:299.00px;width:200px;top:619.96px;font-size:16px;line-height:16px;letter-spacing:0.3px;text-indent:0.3px;color:#222;font-weight:normal;text-align:center;white-space:nowrap;transform:scaleX(1.03);transform-origin:100.0px 0;">1770</div><div class="t" style="left:402.20px;width:200px;top:619.96px;font-size:16px;line-height:16px;letter-spacing:0.3px;text-indent:0.3px;color:#222;font-weight:normal;text-align:center;white-space:nowrap;transform:scaleX(1.03);transform-origin:100.0px 0;">992</div><div class="t" style="left:515.60px;width:200px;top:619.96px;font-size:16px;line-height:16px;letter-spacing:0.3px;text-indent:0.3px;color:#222;font-weight:normal;text-align:center;white-space:nowrap;transform:scaleX(1.03);transform-origin:100.0px 0;">620,5</div>
<div class="t" style="left:1.3px;top:653.75px;font-size:14px;color:#666;line-height:14px;letter-spacing:0.9px;white-space:nowrap">Примечания: все размеры даны в мм</div>
</body></html>
